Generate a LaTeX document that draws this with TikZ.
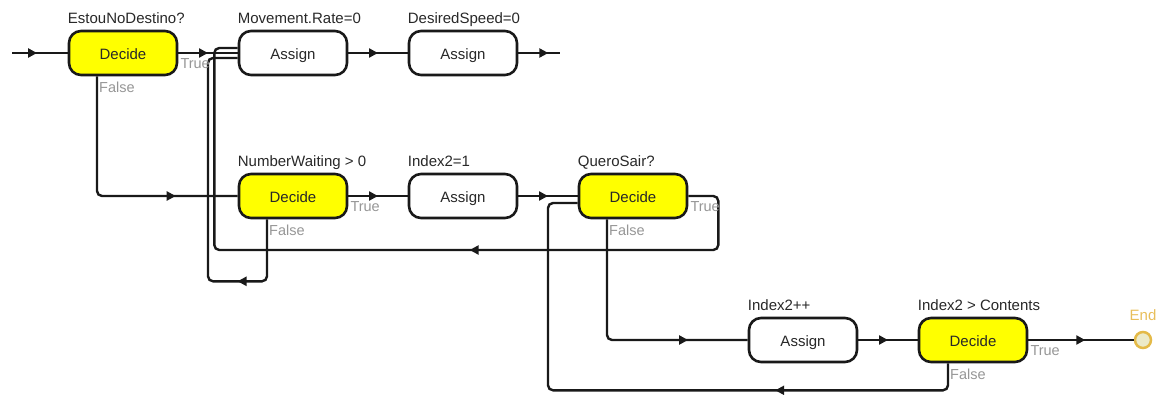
\documentclass[tikz,border=0pt]{standalone}
\usepackage{fontspec}
\setmainfont{Liberation Sans}
\usetikzlibrary{arrows.meta,decorations.markings}
\definecolor{decidefill}{RGB}{255,255,0}
\definecolor{ink}{RGB}{25,25,25}
\definecolor{labelink}{RGB}{40,40,40}
\definecolor{branch}{RGB}{150,150,150}
\definecolor{endring}{RGB}{228,186,72}
\definecolor{endfill}{RGB}{236,234,200}
\definecolor{endtext}{RGB}{232,190,90}
\tikzset{
  block/.style={draw=ink, line width=2.6pt, rounded corners=12pt,
    minimum width=108pt, minimum height=44pt, inner sep=0pt,
    text height=13pt, text depth=0pt,
    text=labelink, font=\fontsize{15}{15}\selectfont},
  decidebox/.style={block, fill=decidefill},
  assignbox/.style={block, fill=white},
  caption/.style={anchor=base west, inner sep=0pt, text=labelink,
    font=\fontsize{15}{15}\selectfont},
  branchtag/.style={anchor=west, inner sep=0pt, text=branch,
    font=\fontsize{14.5}{14.5}\selectfont},
  flow/.style={draw=ink, line width=2.4pt, rounded corners=5pt},
  arrowat/.style={postaction={decorate}, decoration={markings,
    mark=at position #1 with {\arrow{Triangle[length=9pt,width=9pt]}}}},
  endpoint/.style={circle, draw=endring, fill=endfill, line width=2.5pt,
    minimum size=16pt, inner sep=0pt},
}
\begin{document}
\begin{tikzpicture}[x=1pt,y=-1pt]
\useasboundingbox (0,0) rectangle (1160,394);

% process blocks
\node[decidebox] (d1) at (123,53)  {Decide};
\node[assignbox] (a1) at (293,53)  {Assign};
\node[assignbox] (a2) at (463,53)  {Assign};
\node[decidebox] (d2) at (293,196) {Decide};
\node[assignbox] (a3) at (463,196) {Assign};
\node[decidebox] (d3) at (633,196) {Decide};
\node[assignbox] (a4) at (803,340) {Assign};
\node[decidebox] (d4) at (973,340) {Decide};
\node[endpoint]  (endc) at (1143,340) {};

% block captions
\node[caption] (t1) at ([yshift=6pt]d1.north west) {EstouNoDestino?};
\node[caption] (t2) at ([yshift=6pt]a1.north west) {Movement.Rate=0};
\node[caption] (t3) at ([yshift=6pt]a2.north west) {DesiredSpeed=0};
\node[caption] (t4) at ([yshift=6pt]d2.north west) {NumberWaiting > 0};
\node[caption] (t5) at ([yshift=6pt]a3.north west) {Index2=1};
\node[caption] (t6) at ([yshift=6pt]d3.north west) {QueroSair?};
\node[caption] (t7) at ([yshift=6pt]a4.north west) {Index2++};
\node[caption] (t8) at ([yshift=6pt]d4.north west) {Index2 > Contents};
\node[anchor=base, inner sep=0pt, text=endtext, font=\fontsize{15}{15}\selectfont]
  (tend) at ([yshift=10pt]endc.north) {End};

% entry and exit stubs
\coordinate (src)  at (12,53);
\coordinate (sink) at (560,53);

% main flow
\draw[flow, arrowat=0.45] (src) -- (d1.west);
\draw[flow, arrowat=0.5]  (d1.east) -- (a1.west);
\draw[flow, arrowat=0.5]  (a1.east) -- (a2.west);
\draw[flow, arrowat=0.72] (a2.east) -- (sink);
\draw[flow, arrowat=0.76] ([xshift=-26pt]d1.south) |- (d2.west);
\draw[flow, arrowat=0.5]  (d2.east) -- (a3.west);
\draw[flow, arrowat=0.5]  (a3.east) -- (d3.west);
\draw[flow, arrowat=0.77] ([xshift=-26pt]d3.south) |- (a4.west);
\draw[flow, arrowat=0.5]  (a4.east) -- (d4.west);
\draw[flow, arrowat=0.54] (d4.east) -- (endc);

% return loops
\draw[flow, arrowat=0.243] ([xshift=-26pt]d2.south) -- ++(0,62) -- ++(-59,0)
  |- ([yshift=-5pt]a1.west);
\draw[flow, arrowat=0.408] (d3.east) -- ++(30,0) -- ++(0,54) -- ++(-504,0)
  |- ([yshift=5pt]a1.west);
\draw[flow, arrowat=0.31] ([xshift=-25pt]d4.south) -- ++(0,27) -- ++(-400,0)
  |- ([yshift=-7pt]d3.west);

% branch tags
\node[branchtag] (b1t) at ([xshift=2pt,yshift=-11pt]d1.east) {True};
\node[branchtag] (b1f) at ([xshift=-24pt,yshift=-11pt]d1.south) {False};
\node[branchtag] (b2t) at ([xshift=2pt,yshift=-11pt]d2.east) {True};
\node[branchtag] (b2f) at ([xshift=-24pt,yshift=-11pt]d2.south) {False};
\node[branchtag] (b3t) at ([xshift=2pt,yshift=-11pt]d3.east) {True};
\node[branchtag] (b3f) at ([xshift=-24pt,yshift=-11pt]d3.south) {False};
\node[branchtag] (b4t) at ([xshift=2pt,yshift=-11pt]d4.east) {True};
\node[branchtag] (b4f) at ([xshift=-23pt,yshift=-11pt]d4.south) {False};
\end{tikzpicture}
\end{document}
